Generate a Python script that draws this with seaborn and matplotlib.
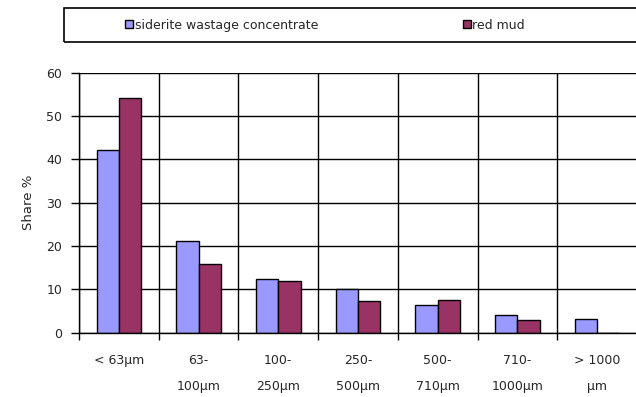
import matplotlib
matplotlib.use("Agg")
import matplotlib.pyplot as plt
import seaborn as sns
import pandas as pd
from matplotlib.patches import Rectangle

categories = ["< 63µm", "63-\n100µm", "100-\n250µm", "250-\n500µm", "500-\n710µm", "710-\n1000µm", "> 1000\nµm"]
siderite = [42.2, 21.2, 12.5, 10.0, 6.5, 4.1, 3.2]
red_mud = [54.1, 15.8, 12.0, 7.4, 7.5, 2.9, 0.0]
series_names = ["siderite wastage concentrate", "red mud"]
colors = ["#9999FF", "#993366"]

df = pd.DataFrame({
    "size": categories * 2,
    "share": siderite + red_mud,
    "series": [series_names[0]] * len(categories) + [series_names[1]] * len(categories),
})

sns.set_style("white")
plt.rcParams["font.family"] = ["DejaVu Sans"]
FS = 9

fig = plt.figure(figsize=(6.36, 3.97), dpi=100)
ax = fig.add_axes([79 / 636, 1 - 332.7 / 397, (637 - 79) / 636, (332.7 - 72.7) / 397])

sns.barplot(data=df, x="size", y="share", hue="series", palette=colors,
            width=0.56, edgecolor="black", linewidth=1.0, ax=ax, saturation=1)

handles, labels = ax.get_legend_handles_labels()
if ax.get_legend() is not None:
    ax.get_legend().remove()

ax.set_xlim(-0.5, 6.5)
ax.set_ylim(0, 60)
ax.set_yticks(range(0, 61, 10))
ax.set_xticks(range(len(categories)))
ax.set_xticklabels(categories, fontsize=FS, linespacing=2.3, va="top")
ax.set_xticks([i + 0.5 for i in range(-1, len(categories))], minor=True)
ax.tick_params(axis="x", which="major", length=0, pad=15)
ax.tick_params(axis="x", which="minor", length=5, width=1, color="black", direction="out", bottom=True)
ax.tick_params(axis="y", length=6, width=1, color="black", direction="out", left=True, labelsize=FS, pad=6)
ax.grid(axis="x", which="minor", color="black", linewidth=1)
ax.grid(axis="y", which="major", color="black", linewidth=1)
ax.set_axisbelow(True)
ax.set_xlabel("")
ax.set_ylabel("Share %", fontsize=9.5, labelpad=8)
for s in ["top", "right"]:
    ax.spines[s].set_visible(False)
for s in ["left", "bottom"]:
    ax.spines[s].set_color("black")
    ax.spines[s].set_linewidth(1)

# legend box
fig.patches.append(Rectangle((64 / 636, 1 - 42.3 / 397), 1.0, (42.3 - 8.3) / 397,
                             transform=fig.transFigure, fill=False, edgecolor="black",
                             linewidth=1.2, clip_on=False))
positions = [126.7, 464.3]
for h, l, xp in zip(handles, labels, positions):
    fig.legend([h], [l], loc="center left", bbox_to_anchor=(xp / 636 - 0.002, 1 - 25.3 / 397),
               frameon=False, fontsize=FS, handlelength=0.6, handleheight=0.6,
               handletextpad=0.15, borderpad=0, borderaxespad=0)

fig.savefig("out.png", dpi=100)
